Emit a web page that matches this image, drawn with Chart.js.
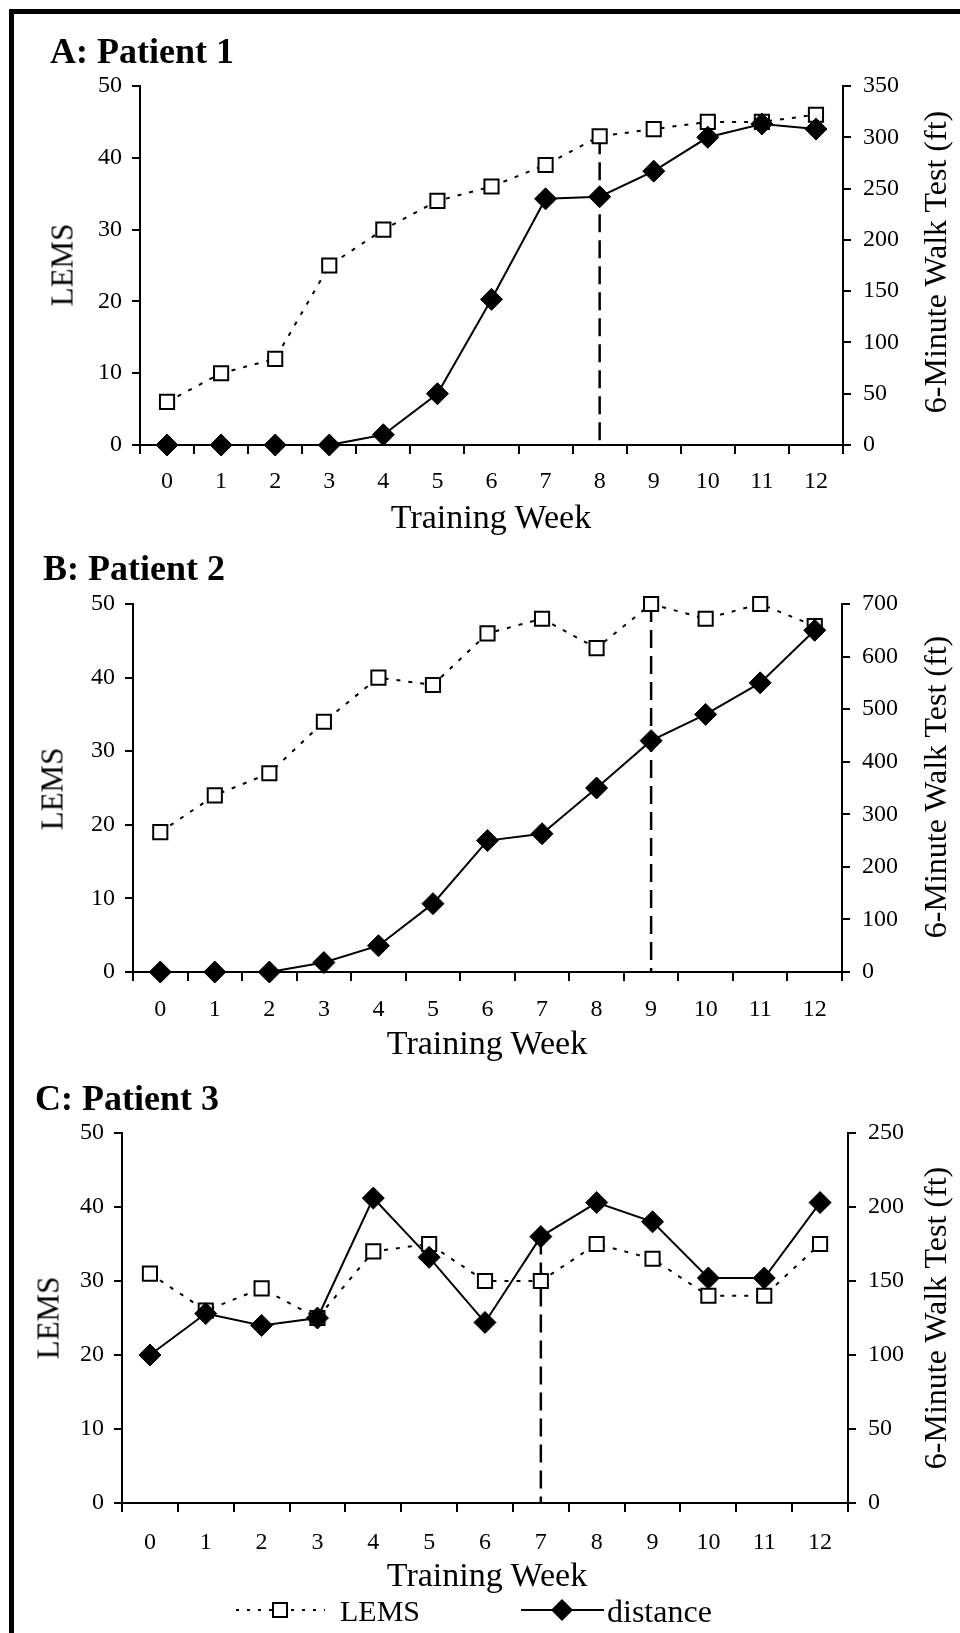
<!DOCTYPE html>
<html>
<head>
<meta charset="utf-8">
<script src="https://cdn.jsdelivr.net/npm/chart.js@4.4.1/dist/chart.umd.min.js"></script>
<style>
  html, body { margin:0; padding:0; background:#fff; }
  body { width:960px; height:1633px; position:relative; overflow:hidden; font-family:'Liberation Serif','Times New Roman',serif; color:#000; }
  canvas { position:absolute; left:0; }
  .frame { position:absolute; left:9px; top:9px; width:980px; height:1660px; border-top:5px solid #000; border-left:5px solid #000; box-sizing:border-box; }
  .t { position:absolute; white-space:nowrap; line-height:1; z-index:5; }
  .c { transform:translate(-50%,-50%); }
  .r { transform:translate(-50%,-50%) rotate(-90deg); }
  .ptitle { font-weight:bold; font-size:36px; }
</style>
</head>
<body>
<div class="frame"></div>
<canvas id="cA" width="960" height="535" style="top:0px"></canvas>
<canvas id="cB" width="960" height="530" style="top:535px"></canvas>
<canvas id="cC" width="960" height="568" style="top:1065px"></canvas>

<div class="t ptitle" style="left:50px; top:33px;">A: Patient 1</div>
<div class="t ptitle" style="left:43px; top:550px;">B: Patient 2</div>
<div class="t ptitle" style="left:35px; top:1080px;">C: Patient 3</div>

<div class="t r" style="left:62px; top:265px; font-size:31px;">LEMS</div>
<div class="t r" style="left:52px; top:789px; font-size:31px;">LEMS</div>
<div class="t r" style="left:48px; top:1318px; font-size:31px;">LEMS</div>

<div class="t r" style="left:935px; top:262px; font-size:32px;">6-Minute Walk Test (ft)</div>
<div class="t r" style="left:935px; top:787px; font-size:32px;">6-Minute Walk Test (ft)</div>
<div class="t r" style="left:935px; top:1318px; font-size:32px;">6-Minute Walk Test (ft)</div>

<div class="t c" style="left:491px; top:517px; font-size:34px;">Training Week</div>
<div class="t c" style="left:487px; top:1043px; font-size:34px;">Training Week</div>
<div class="t c" style="left:487px; top:1575px; font-size:34px;">Training Week</div>

<svg style="position:absolute; left:0; top:1590px; z-index:5" width="960" height="40">
  <line x1="236" y1="20" x2="325" y2="20" stroke="#000" stroke-width="2" stroke-dasharray="3,8"/>
  <rect x="273" y="13" width="14" height="14" fill="#fff" stroke="#000" stroke-width="2"/>
  <line x1="521" y1="20" x2="604" y2="20" stroke="#000" stroke-width="2"/>
  <polygon points="562,9 573,20 562,31 551,20" fill="#000"/>
</svg>
<div class="t" style="left:340px; top:1596px; font-size:30px;">LEMS</div>
<div class="t" style="left:607px; top:1595px; font-size:32px;">distance</div>

<script>
// ---- data ----
const weeks = ['0','1','2','3','4','5','6','7','8','9','10','11','12'];
const lemsA = [6, 10, 12, 25, 30, 34, 36, 39, 43, 44, 45, 45, 46];
const distA = [0, 0, 0, 0, 10, 50, 142, 240, 242, 267, 300, 313, 308];
const lemsB = [19, 24, 27, 34, 40, 39, 46, 48, 44, 50, 48, 50, 47];
const distB = [0, 0, 0, 18, 50, 130, 250, 263, 350, 440, 490, 550, 650];
const lemsC = [31, 26, 29, 25, 34, 35, 30, 30, 35, 33, 28, 28, 35];
const distC = [100, 128, 120, 125, 206, 166, 122, 180, 203, 190, 152, 152, 203];
const lemsTicks = [0, 10, 20, 30, 40, 50];
const distMax = [350, 700, 250];
const distStep = [50, 100, 50];
const markWeek = [8, 9, 7];

const FONT = "'Liberation Serif', 'Times New Roman', serif";
const XH = 60;

const markerLine = {
  id: 'markerLine',
  beforeDatasetsDraw(chart, args, opts) {
    const wk = opts.week;
    const x = chart.scales.x.getPixelForValue(wk);
    const yD = chart.scales.y2.getPixelForValue(chart.data.datasets[0].data[wk]);
    const yL = chart.scales.y.getPixelForValue(chart.data.datasets[1].data[wk]);
    const ctx = chart.ctx;
    ctx.save();
    ctx.strokeStyle = '#000';
    ctx.lineWidth = 2.5;
    ctx.setLineDash([18, 8]);
    ctx.beginPath();
    ctx.moveTo(x, Math.min(yD, yL));
    ctx.lineTo(x, chart.chartArea.bottom);
    ctx.stroke();
    ctx.restore();
  }
};

function panel(id, cTop, cH, area, lems, dist, idx, xPad) {
  const tickFont = { family: FONT, size: 24 };
  new Chart(document.getElementById(id), {
    type: 'line',
    data: {
      labels: weeks,
      datasets: [
        { label: 'distance', data: dist, yAxisID: 'y2', order: 0,
          borderColor: '#000', borderWidth: 2, tension: 0,
          pointStyle: 'rectRot', pointRadius: 11, pointHoverRadius: 11,
          pointBackgroundColor: '#000', pointBorderColor: '#000', pointBorderWidth: 1, clip: false },
        { label: 'LEMS', data: lems, yAxisID: 'y', order: 1,
          borderColor: '#000', borderWidth: 2, borderDash: [4, 8], tension: 0,
          pointStyle: 'rect', pointRadius: 10, pointHoverRadius: 10,
          pointBackgroundColor: '#fff', pointBorderColor: '#000', pointBorderWidth: 2, clip: false }
      ]
    },
    options: {
      responsive: false, animation: false, events: [],
      layout: { padding: { top: area.t - cTop, bottom: cTop + cH - area.b - XH, left: 0, right: 0 } },
      plugins: { legend: { display: false }, tooltip: { enabled: false }, markerLine: { week: markWeek[idx] } },
      scales: {
        x: {
          type: 'category', offset: true,
          grid: { offset: true, drawOnChartArea: false, drawTicks: true, tickLength: 9, color: '#000', lineWidth: 2 },
          border: { display: true, color: '#000', width: 2 },
          ticks: { color: '#000', font: tickFont, padding: xPad, maxRotation: 0, autoSkip: false },
          afterFit(s) { s.height = XH; }
        },
        y: {
          position: 'left', min: 0, max: 50,
          afterBuildTicks(s) { s.ticks = lemsTicks.map(v => ({ value: v })); },
          grid: { drawOnChartArea: false, drawTicks: true, tickLength: 8, color: '#000', lineWidth: 2 },
          border: { display: true, color: '#000', width: 2 },
          ticks: { color: '#000', font: tickFont, padding: 10 },
          afterFit(s) { s.width = area.l; }
        },
        y2: {
          position: 'right', min: 0, max: distMax[idx],
          grid: { drawOnChartArea: false, drawTicks: true, tickLength: 8, color: '#000', lineWidth: 2 },
          border: { display: true, color: '#000', width: 2 },
          ticks: { color: '#000', font: tickFont, padding: 12, stepSize: distStep[idx] },
          afterFit(s) { s.width = 960 - area.r; }
        }
      }
    },
    plugins: [markerLine]
  });
}

panel('cA', 0, 535, { l: 140, r: 843, t: 86, b: 445 }, lemsA, distA, 0, 13);
panel('cB', 535, 530, { l: 133, r: 842, t: 604, b: 972 }, lemsB, distB, 1, 14);
panel('cC', 1065, 568, { l: 122, r: 848, t: 1133, b: 1503 }, lemsC, distC, 2, 16);
</script>
</body>
</html>
